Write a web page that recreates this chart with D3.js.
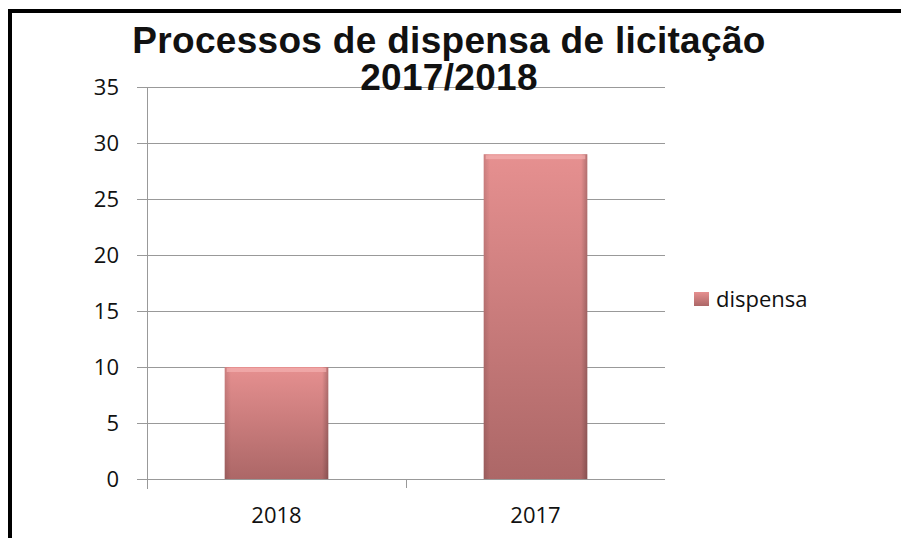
<!DOCTYPE html>
<html>
<head>
<meta charset="utf-8">
<script src="https://cdn.jsdelivr.net/npm/d3@7"></script>
<style>
  html, body { margin: 0; padding: 0; background: #fff; }
  svg { display: block; }
  .tick-label { font-family: "Open Sans", "Noto Sans", sans-serif; font-size: 22px; fill: #111; }
  .title { font-family: "Liberation Sans", Arial, sans-serif; font-weight: bold; font-size: 37px; letter-spacing: 0.3px; fill: #111; }
</style>
</head>
<body>
<div id="chart"></div>
<script>
const categories = ['2018', '2017'];
const values = [10, 29];
const yTicks = [0, 5, 10, 15, 20, 25, 30, 35];
const seriesName = 'dispensa';
const titleLines = ['Processos de dispensa de licitação', '2017/2018'];

const width = 901, height = 538;
const plot = { left: 147, right: 665, top: 87, bottom: 479 };

const svg = d3.select('#chart').append('svg')
  .attr('width', width)
  .attr('height', height);

const defs = svg.append('defs');
const grad = defs.append('linearGradient')
  .attr('id', 'barGrad')
  .attr('x1', 0).attr('y1', 0).attr('x2', 0).attr('y2', 1);
grad.append('stop').attr('offset', '0%').attr('stop-color', '#e69090');
grad.append('stop').attr('offset', '100%').attr('stop-color', '#ac6767');

const sideGrad = defs.append('linearGradient')
  .attr('id', 'sideGrad')
  .attr('x1', 0).attr('y1', 0).attr('x2', 1).attr('y2', 0);
sideGrad.append('stop').attr('offset', '0%').attr('stop-color', '#000').attr('stop-opacity', 0.12);
sideGrad.append('stop').attr('offset', '6%').attr('stop-color', '#000').attr('stop-opacity', 0);
sideGrad.append('stop').attr('offset', '94%').attr('stop-color', '#000').attr('stop-opacity', 0);
sideGrad.append('stop').attr('offset', '100%').attr('stop-color', '#000').attr('stop-opacity', 0.22);

// frame (top and left only)
svg.append('rect').attr('x', 8).attr('y', 9).attr('width', width - 8).attr('height', 4).attr('fill', '#000');
svg.append('rect').attr('x', 8).attr('y', 9).attr('width', 4).attr('height', height - 9).attr('fill', '#000');

const x = d3.scaleBand()
  .domain(categories)
  .range([plot.left, plot.right])
  .paddingInner(0)
  .paddingOuter(0);

const y = d3.scaleLinear()
  .domain([0, 35])
  .range([plot.bottom, plot.top]);

// gridlines
svg.append('g')
  .selectAll('line')
  .data(yTicks)
  .join('line')
  .attr('x1', plot.left - 10)
  .attr('x2', plot.right)
  .attr('y1', d => y(d) + 0.5)
  .attr('y2', d => y(d) + 0.5)
  .attr('stroke', '#999')
  .attr('stroke-width', 1);

// y axis line
svg.append('line')
  .attr('x1', plot.left + 0.5).attr('x2', plot.left + 0.5)
  .attr('y1', plot.top).attr('y2', plot.bottom + 10)
  .attr('stroke', '#999');

// category tick in the middle
svg.append('line')
  .attr('x1', x('2017') + 0.5).attr('x2', x('2017') + 0.5)
  .attr('y1', plot.bottom).attr('y2', plot.bottom + 9)
  .attr('stroke', '#999');

// y labels
svg.append('g')
  .selectAll('text')
  .data(yTicks)
  .join('text')
  .attr('class', 'tick-label')
  .attr('x', 119)
  .attr('y', d => y(d))
  .attr('dy', '0.35em')
  .attr('text-anchor', 'end')
  .text(d => d);

// x labels
svg.append('g')
  .selectAll('text')
  .data(categories)
  .join('text')
  .attr('class', 'tick-label')
  .attr('x', d => x(d) + x.bandwidth() / 2)
  .attr('y', 523)
  .attr('text-anchor', 'middle')
  .text(d => d);

// bars
const barW = x.bandwidth() * 0.4;
const bars = svg.append('g')
  .selectAll('g')
  .data(categories.map((c, i) => ({ c, v: values[i] })))
  .join('g');

bars.append('rect')
  .attr('x', d => x(d.c) + (x.bandwidth() - barW) / 2)
  .attr('y', d => y(d.v))
  .attr('width', barW)
  .attr('height', d => plot.bottom - y(d.v))
  .attr('fill', 'url(#barGrad)');

bars.append('rect')
  .attr('x', d => x(d.c) + (x.bandwidth() - barW) / 2)
  .attr('y', d => y(d.v))
  .attr('width', barW)
  .attr('height', d => plot.bottom - y(d.v))
  .attr('fill', 'url(#sideGrad)');

// top bevel highlight
bars.append('rect')
  .attr('x', d => x(d.c) + (x.bandwidth() - barW) / 2 + 2)
  .attr('y', d => y(d.v) + 1)
  .attr('width', barW - 4)
  .attr('height', 4)
  .attr('fill', '#f4b0b0')
  .attr('opacity', 0.7);

// legend
const legend = svg.append('g').attr('transform', 'translate(694,292)');
legend.append('rect')
  .attr('width', 15).attr('height', 14)
  .attr('fill', 'url(#barGrad)');
legend.append('text')
  .attr('class', 'tick-label')
  .attr('x', 22)
  .attr('y', 7)
  .attr('dy', '0.35em')
  .text(seriesName);

// title
svg.append('g')
  .selectAll('text')
  .data(titleLines)
  .join('text')
  .attr('class', 'title')
  .attr('x', 449)
  .attr('y', (d, i) => 53 + i * 37)
  .attr('text-anchor', 'middle')
  .text(d => d);
</script>
</body>
</html>
